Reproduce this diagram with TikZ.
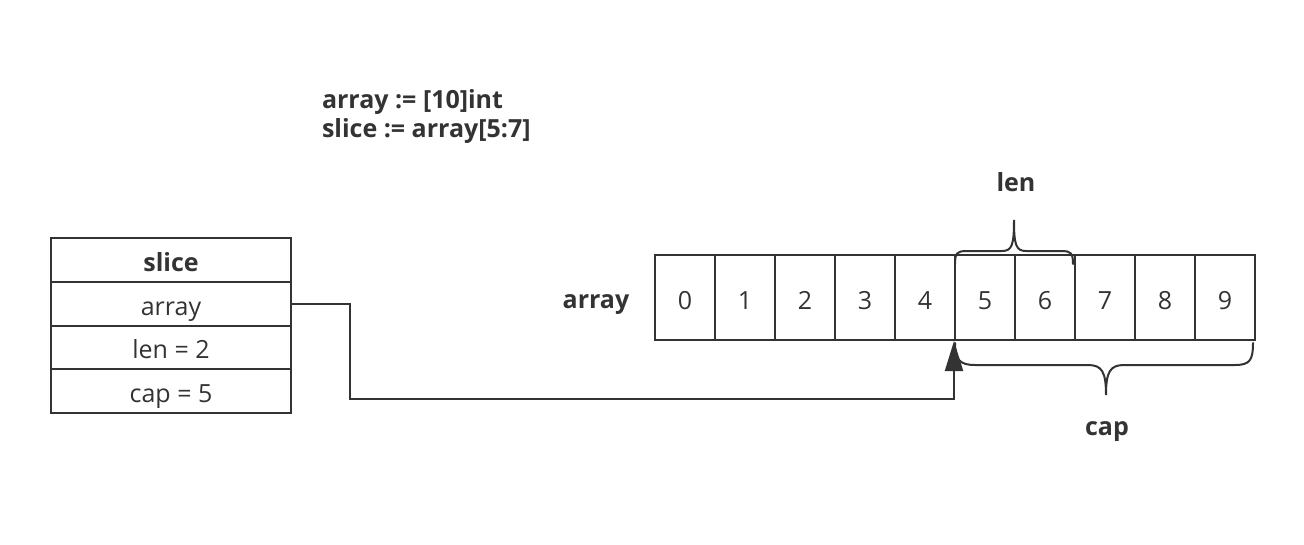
\documentclass[tikz,border=0pt]{standalone}
\usepackage{fontspec}
\setmainfont{Open Sans}
\usetikzlibrary{arrows.meta}
\definecolor{ink}{HTML}{333333}
\begin{document}
\begin{tikzpicture}[x=1pt,y=-1pt,line width=2pt,
  txt/.style={text=ink,font=\fontsize{25}{29}\selectfont,inner sep=0pt},
  btxt/.style={txt,font=\fontsize{25}{29}\selectfont\bfseries},
  cell/.style={txt,draw=ink,line width=2pt,minimum width=60pt,minimum height=85pt,
    text height=24pt,text depth=1pt,anchor=north west},
  row/.style={txt,draw=ink,line width=2pt,minimum width=240pt,minimum height=43.75pt,
    text height=24pt,text depth=1pt,anchor=north west},
  link/.style={draw=ink,line width=2pt,-{Triangle[length=30pt,width=18pt]}},
  brace/.style={draw=ink,line width=2pt,line cap=round}]
\useasboundingbox[fill=white] (0,0) rectangle (1304,544);
% code
\node[btxt,anchor=base west,align=left] (code) at (321,137) {array := [10]int\\slice := array[5:7]};
% slice struct
\node[row,font=\fontsize{25}{29}\selectfont\bfseries] (r0) at (50,237) {slice};
\node[row] (r1) at (50,280.75) {array};
\node[row] (r2) at (50,324.5) {len = 2};
\node[row] (r3) at (50,368.25) {cap = 5};
% array
\node[btxt,anchor=base] (alab) at (596,308) {array};
\foreach \i in {0,...,9}{
  \node[cell] (c\i) at (654+60*\i,254) {\i};
}
% braces
\draw[brace] (955,264) .. controls (955,253) and (957,251) .. (967,251) -- (1002,251)
  .. controls (1012,251) and (1014,245) .. (1014,220)
  .. controls (1014,245) and (1016,251) .. (1026,251) -- (1061,251)
  .. controls (1071,251) and (1073,253) .. (1073,264);
\draw[brace] (955,343) .. controls (955,360) and (960,365) .. (975,365) -- (1088,365)
  .. controls (1102,365) and (1106,372) .. (1106,395)
  .. controls (1106,372) and (1110,365) .. (1124,365) -- (1235,365)
  .. controls (1250,365) and (1253,360) .. (1253,343);
\node[btxt,anchor=base] (lenlab) at (1016,191) {len};
\node[btxt,anchor=base] (caplab) at (1107,435) {cap};
% connector
\coordinate (bend) at (350,399);
\draw[link] (r1.east) -| (bend) -| (c5.south west);
\end{tikzpicture}
\end{document}
